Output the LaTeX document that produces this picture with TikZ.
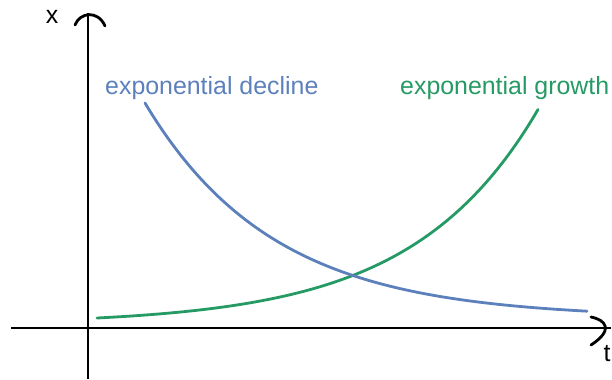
\documentclass[tikz,border=0pt]{standalone}
\usepackage{fontspec}
\setmainfont{Liberation Sans}
\definecolor{declblue}{RGB}{92,128,188}
\definecolor{growgreen}{RGB}{38,154,100}
\begin{document}
\begin{tikzpicture}[x=1bp,y=-1bp,
  axis/.style={line width=2.8bp,black},
  tip/.style={line width=2.8bp,black,line cap=round},
  curve/.style={line width=2.8bp,line cap=round},
  lbl/.style={font=\fontsize{25}{28}\selectfont,inner sep=0pt,anchor=base west}]
\useasboundingbox (0,0) rectangle (612,379);
% axes
\coordinate (yb) at (88,379);
\coordinate (yt) at (88,13);
\coordinate (xl) at (11,328);
\coordinate (xr) at (611,328);
\draw[axis] (yb) -- (yt);
\draw[axis] (xl) -- (xr);
% open arrowheads
\draw[tip] (75,25) .. controls (80,12) and (98,10) .. (105,26);
\draw[tip] (591,317) .. controls (606,320) and (614,330) .. (591,345);
% axis labels
\node[font=\fontsize{25}{28}\selectfont,inner sep=0pt] (xlab) at (52,17) {x};
\node[font=\fontsize{25}{28}\selectfont,inner sep=0pt] (tlab) at (607,354) {t};
% curves
\draw[curve,growgreen] plot[domain=97:538,samples=120,smooth] (\x,{328-(3.68+6.32*exp(0.008*(\x-97)))});
\draw[curve,declblue] plot[domain=145:587,samples=120,smooth] (\x,{328-(10+215*exp(-0.0078*(\x-145)))});
% labels
\node[lbl,text=declblue] (decl) at (105,94) {exponential decline};
\node[lbl,text=growgreen] (grow) at (400,94) {exponential growth};
\end{tikzpicture}
\end{document}
